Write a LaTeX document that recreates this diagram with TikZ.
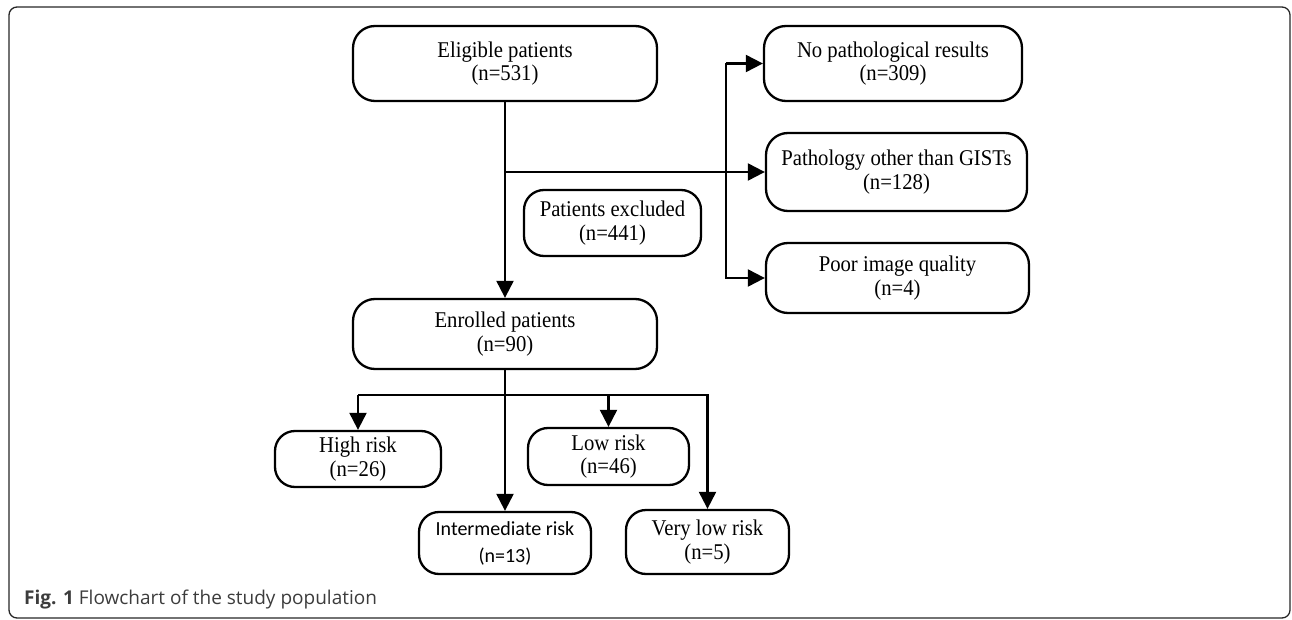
\documentclass[tikz,border=0pt]{standalone}
\usepackage{fontspec}
\setmainfont{Liberation Serif}[FakeStretch=0.92]
\newfontfamily\carl{Carlito}
\newfontfamily\capfont{Open Sans}
\usetikzlibrary{arrows.meta}
\definecolor{capgray}{HTML}{3C3C3C}
\tikzset{
  box/.style={draw, line width=2.3pt, rounded corners=22pt, align=center,
    inner sep=0pt, font=\fontsize{22.5}{23.5}\selectfont},
  arr/.style={line width=2.1pt, -{Triangle[length=17pt,width=17pt]}},
}
\begin{document}
\begin{tikzpicture}[x=1pt,y=-1pt]
\useasboundingbox (0,0) rectangle (1292,620);
\draw[line width=1.3pt, black!85, rounded corners=8pt] (9,7) rectangle (1290,618);

\node[box, minimum width=304pt, minimum height=75pt] (elig) at (505,63.5) {Eligible patients\\(n=531)};
\node[box, minimum width=304pt, minimum height=70pt] (enr) at (505,334) {Enrolled patients\\(n=90)};
\node[box, minimum width=177pt, minimum height=66pt, rounded corners=20pt] (excl) at (612.5,223) {Patients excluded\\(n=441)};
\node[box, minimum width=258pt, minimum height=75pt] (nopath) at (893,63.5) {No pathological results\\(n=309)};
\node[box, minimum width=261pt, minimum height=78pt] (pathol) at (896.5,172) {Pathology other than GISTs\\(n=128)};
\node[box, minimum width=263pt, minimum height=70pt] (poor) at (897.5,278) {Poor image quality\\(n=4)};
\node[box, minimum width=166pt, minimum height=56pt, rounded corners=20pt] (high) at (358,459) {High risk\\(n=26)};
\node[box, minimum width=161pt, minimum height=57pt, rounded corners=20pt] (low) at (608.5,456.5) {Low risk\\(n=46)};
\node[box, minimum width=172pt, minimum height=62pt, rounded corners=20pt, font=\carl\fontsize{20}{27}\selectfont] (inter) at (505,543) {Intermediate risk\\(n=13)};
\node[box, minimum width=163pt, minimum height=64pt, rounded corners=20pt] (vlow) at (707.5,542) {Very low risk\\(n=5)};

\coordinate (j1) at (505,172);
\coordinate (bx) at (726,0);
\coordinate (j2) at (505,395);

\draw[arr] (elig.south) -- (enr.north);
\draw[arr] (j1) -- (j1 -| pathol.west);
\draw[arr] (bx |- nopath.west) -- (nopath.west);
\draw[arr] (bx |- nopath.west) -- (bx |- poor.west) -- (poor.west);

\draw[arr] (enr.south) -- (inter.north);
\draw[arr] (j2 -| high.north) -- (high.north);
\draw[arr] (j2 -| high.north) -- (j2 -| vlow.north) -- (vlow.north);
\draw[arr] (j2 -| low.north) -- (low.north);

\node[anchor=west, inner sep=0pt, font=\capfont\fontsize{19}{22}\selectfont, text=capgray] (cap) at (24,600) {\textbf{Fig. 1} Flowchart of the study population};
\end{tikzpicture}
\end{document}
